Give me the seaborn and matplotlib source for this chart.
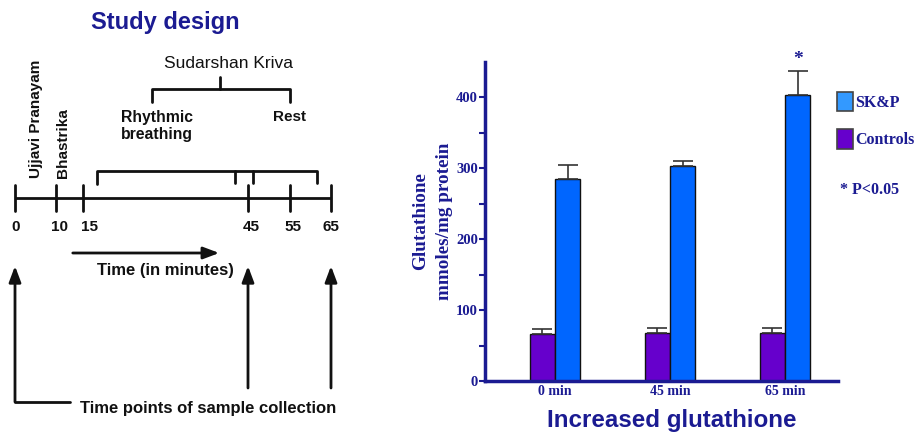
import numpy as np
import pandas as pd
import matplotlib
matplotlib.use("Agg")
import matplotlib.pyplot as plt
import seaborn as sns
from matplotlib.patches import Patch

# ---------------- data ----------------
times = ["0 min", "45 min", "65 min"]
groups = ["Controls", "SK&P"]
controls_mean = [67, 68, 68]
controls_err = [6, 7, 7]
skp_mean = [285, 303, 404]
skp_err = [19, 8, 34]
significant = [False, False, True]

timeline_labels = ["0", "10", "15", "45", "55", "65"]

# ---------------- style ----------------
NAVY = "#1b1b92"
C_CTRL = "#6600cc"
C_SKP = "#0066ff"
C_SKP_LEG = "#3399ff"

sns.set_theme(style="white")
plt.rcParams["font.family"] = ["Liberation Sans", "DejaVu Sans"]

fig = plt.figure(figsize=(9.17, 4.32), dpi=100)

# ---------------- left: study design schematic (pixel-coordinate overlay) ----------------
ax0 = fig.add_axes([0, 0, 1, 1], zorder=0)
ax0.set_xlim(0, 917)
ax0.set_ylim(432, 0)
ax0.axis("off")

black = "#111111"
lw = 2.0
ax0.text(165, 22, "Study design", ha="center", va="center", fontsize=17,
         fontweight="bold", color=NAVY)

# timeline
tick_x = [15, 56, 83, 248, 290, 331]
ax0.plot([15, 331], [198, 198], color=black, lw=lw, solid_capstyle="butt")
for tx in tick_x:
    ax0.plot([tx, tx], [185, 211], color=black, lw=lw)
lab_x = [16, 60, 90, 251, 293, 331]
for lx, lab in zip(lab_x, timeline_labels):
    ax0.text(lx, 227, lab, ha="center", va="center", fontsize=11, fontweight="bold", color=black)

# lower bracket
ax0.plot([97, 97, 317, 317], [184, 171, 171, 183], color=black, lw=lw)
ax0.plot([235, 235], [171, 183], color=black, lw=lw)
ax0.plot([253, 253], [171, 183], color=black, lw=lw)

# Sudarshan Kriva bracket
ax0.plot([152, 152, 290, 290], [102, 89, 89, 102], color=black, lw=lw)
ax0.plot([220, 220], [77, 89], color=black, lw=lw)
ax0.text(229, 63, "Sudarshan Kriva", ha="center", va="center", fontsize=12.5, color=black)
ax0.text(121, 126, "Rhythmic\nbreathing", ha="left", va="center", fontsize=11.3,
         fontweight="bold", color=black, linespacing=1.1)
ax0.text(289, 117, "Rest", ha="center", va="center", fontsize=11, fontweight="bold", color=black)

# rotated labels
ax0.text(36, 178, "Ujjavi Pranayam", rotation=90, ha="center", va="bottom", fontsize=11,
         fontweight="bold", color=black)
ax0.text(63, 178, "Bhastrika", rotation=90, ha="center", va="bottom", fontsize=11,
         fontweight="bold", color=black)

# time arrow
ax0.annotate("", xy=(222, 253), xytext=(70, 253),
             arrowprops=dict(arrowstyle="-|>,head_length=0.8,head_width=0.3", color=black, lw=2))
ax0.text(165, 270, "Time (in minutes)", ha="center", va="center", fontsize=12,
         fontweight="bold", color=black)

# sample collection arrows
for ax_x in [15, 248, 331]:
    ybot = 402 if ax_x == 15 else 388
    ax0.annotate("", xy=(ax_x, 266), xytext=(ax_x, ybot),
                 arrowprops=dict(arrowstyle="-|>,head_length=0.8,head_width=0.3", color=black, lw=2,
                                 shrinkA=0, shrinkB=0))
ax0.plot([15, 70], [402, 402], color=black, lw=2)
ax0.text(80, 408, "Time points of sample collection", ha="left", va="center", fontsize=12,
         fontweight="bold", color=black)

# ---------------- right: bar chart ----------------
df = pd.DataFrame({
    "time": times * 2,
    "group": ["Controls"] * 3 + ["SK&P"] * 3,
    "value": controls_mean + skp_mean,
})

ax = fig.add_axes([485 / 917, 1 - 381 / 432, (838 - 485) / 917, (381 - 62) / 432], zorder=1)
ax.patch.set_alpha(0)
sns.barplot(data=df, x="time", y="value", hue="group", hue_order=groups, order=times,
            palette={"Controls": C_CTRL, "SK&P": C_SKP}, saturation=1, errorbar=None, width=0.44,
            edgecolor="#111111", linewidth=1.0, legend=False, ax=ax)

errs = {"Controls": controls_err, "SK&P": skp_err}
means = {"Controls": controls_mean, "SK&P": skp_mean}
for cont, g in zip(ax.containers, groups):
    xs = [p.get_x() + p.get_width() / 2 for p in cont]
    ax.errorbar(xs, means[g], yerr=[np.zeros(len(xs)), errs[g]], fmt="none",
                ecolor="#333333", elinewidth=1.2, capsize=7, capthick=1.2, zorder=3)
    if g == "SK&P":
        for x, m, e, s in zip(xs, means[g], errs[g], significant):
            if s:
                ax.text(x, m + e + 4, "*", ha="center", va="bottom", fontsize=14,
                        fontweight="bold", color=NAVY, family="Liberation Serif", clip_on=False)

ax.set_xlim(-0.61, 2.46)
ax.set_ylim(0, 450)
ax.set_yticks([0, 100, 200, 300, 400])
ax.set_yticks([50, 150, 250, 350], minor=True)
ax.set_xlabel("")
ax.set_ylabel("Glutathione\nmmoles/mg protein", fontsize=13.8, fontweight="bold", color=NAVY,
              family="Liberation Serif", labelpad=2.5, linespacing=1.48)
for side in ["top", "right"]:
    ax.spines[side].set_visible(False)
for side in ["left", "bottom"]:
    ax.spines[side].set_color(NAVY)
    ax.spines[side].set_linewidth(2.5)
ax.tick_params(axis="y", which="both", direction="out", color=NAVY, width=1.5, length=4, left=True,
               labelsize=10.5, labelcolor=NAVY, pad=1)
ax.tick_params(axis="x", length=0, labelsize=10, labelcolor=NAVY, pad=3)
for lab in ax.get_yticklabels() + ax.get_xticklabels():
    lab.set_fontfamily("Liberation Serif")
    lab.set_fontweight("bold")
ax.grid(False)

# legend
handles = [Patch(facecolor=C_SKP_LEG, edgecolor="#444444", linewidth=1.2),
           Patch(facecolor=C_CTRL, edgecolor="#444444", linewidth=1.2)]
leg = fig.legend(handles, ["SK&P", "Controls"], loc="upper left",
                 bbox_to_anchor=(837 / 917, 1 - 92 / 432), frameon=False,
                 borderpad=0, borderaxespad=0,
                 handlelength=1.0, handleheight=1.5, labelspacing=1.1, handletextpad=0.15,
                 prop={"family": "Liberation Serif", "weight": "bold", "size": 11.5})
for t in leg.get_texts():
    t.set_color(NAVY)
fig.text(840 / 917, 1 - 190 / 432, "* P<0.05", ha="left", va="center", fontsize=11.5,
         fontweight="bold", color=NAVY, family="Liberation Serif")

fig.text(672 / 917, 1 - 420 / 432, "Increased glutathione", ha="center", va="center",
         fontsize=17.4, fontweight="bold", color=NAVY)

fig.savefig("out.png", dpi=100)
